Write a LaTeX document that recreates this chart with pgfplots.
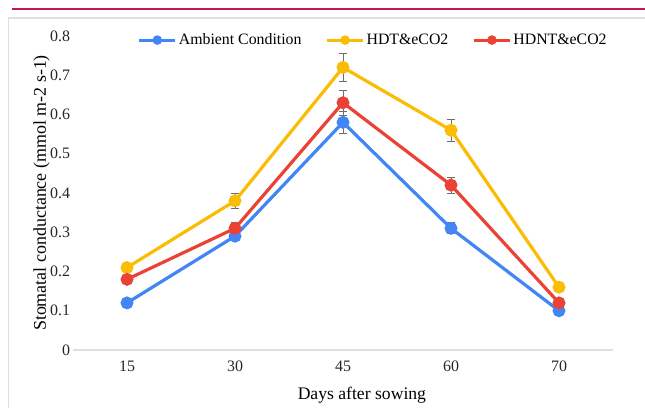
\documentclass[border=0pt]{standalone}
\usepackage{fontspec}
\setmainfont{Liberation Serif}
\usepackage{pgfplots}
\pgfplotsset{compat=1.18}
\definecolor{cblue}{HTML}{4285F4}
\definecolor{cyell}{HTML}{FBBC04}
\definecolor{cred}{HTML}{EA4335}
\definecolor{topline}{HTML}{C2185B}
\definecolor{errgray}{HTML}{6E6E6E}

\begin{document}
\begin{tikzpicture}[x=1bp,y=1bp]
\path[use as bounding box] (0,0) rectangle (645,408);
\draw[topline, line width=2bp] (12,398.5) -- (645,398.5);
\draw[gray!25, line width=1.2bp] (8.5,0) -- (8.5,390) -- (645,390);
\begin{axis}[
 at={(73bp,58bp)}, anchor=south west,
 scale only axis, width=540bp, height=314bp,
 xmin=-0.5, xmax=4.5, ymin=0, ymax=0.8,
 xtick={0,1,2,3,4}, xticklabels={15,30,45,60,70},
 ytick={0,0.1,0.2,0.3,0.4,0.5,0.6,0.7,0.8},
 yticklabels={0,0.1,0.2,0.3,0.4,0.5,0.6,0.7,0.8},
 axis line style={draw=none}, major tick length=0pt,
 tick label style={font=\fontsize{16}{18}\selectfont, text=black!85},
 yticklabel style={xshift=0.5bp},
 xticklabel style={yshift=-7bp},
 xlabel={Days after sowing},
 ylabel={Stomatal conductance (mmol m-2 s-1)},
 xlabel style={font=\fontsize{17.7}{19}\selectfont, at={(axis description cs:0.535,-0.143)}, anchor=center},
 ylabel style={font=\fontsize{18}{19}\selectfont, at={(axis description cs:-0.058,0.5)}, anchor=center},
 legend columns=3,
 legend cell align=left,
 legend style={at={(axis description cs:0.556,0.987)}, anchor=center, draw=none, fill=none,
   font=\fontsize{15.9}{17}\selectfont, inner sep=0pt,
   /tikz/every even column/.append style={column sep=22bp}},
 legend image code/.code={\draw[mark repeat=2,mark phase=2,#1, line width=3bp, mark size=3.2bp] plot coordinates {(0bp,0bp) (18bp,0bp) (36bp,0bp)};},
]
% error bars first, so the markers cover them
\addplot[draw=none, forget plot, error bars/.cd, y dir=both, y explicit,
  error bar style={errgray, line width=0.8bp}, error mark options={rotate=90, mark size=4bp, errgray, line width=0.8bp}]
 coordinates {(1,0.29) +- (0,0.010) (2,0.58) +- (0,0.027) (3,0.31) +- (0,0.014)};
\addplot[draw=none, forget plot, error bars/.cd, y dir=both, y explicit,
  error bar style={errgray, line width=0.8bp}, error mark options={rotate=90, mark size=4bp, errgray, line width=0.8bp}]
 coordinates {(0,0.21) +- (0,0.010) (1,0.38) +- (0,0.019) (2,0.72) +- (0,0.035) (3,0.56) +- (0,0.028)};
\addplot[draw=none, forget plot, error bars/.cd, y dir=both, y explicit,
  error bar style={errgray, line width=0.8bp}, error mark options={rotate=90, mark size=4bp, errgray, line width=0.8bp}]
 coordinates {(0,0.18) +- (0,0.008) (1,0.31) +- (0,0.014) (2,0.63) +- (0,0.032) (3,0.42) +- (0,0.021)};

\addplot[cblue, line width=3.2bp, mark=*, mark size=4.8bp, mark options={solid, fill=cblue}]
 coordinates {(0,0.12) (1,0.29) (2,0.58) (3,0.31) (4,0.10)};
\addlegendentry{Ambient Condition}
\addplot[cyell, line width=3.2bp, mark=*, mark size=4.8bp, mark options={solid, fill=cyell}]
 coordinates {(0,0.21) (1,0.38) (2,0.72) (3,0.56) (4,0.16)};
\addlegendentry{HDT\&eCO2}
\addplot[cred, line width=3.2bp, mark=*, mark size=4.8bp, mark options={solid, fill=cred}]
 coordinates {(0,0.18) (1,0.31) (2,0.63) (3,0.42) (4,0.12)};
\addlegendentry{HDNT\&eCO2}
\draw[gray!25, line width=1.2bp] (axis cs:-0.5,0) -- (axis cs:4.5,0);
\end{axis}
\end{tikzpicture}
\end{document}
